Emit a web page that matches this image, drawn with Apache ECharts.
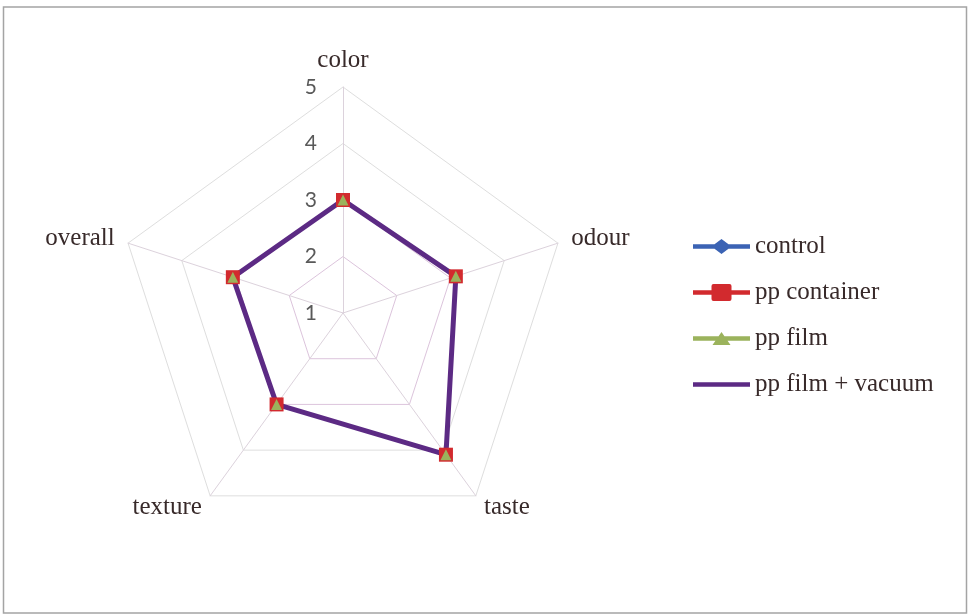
<!DOCTYPE html>
<html>
<head>
<meta charset="utf-8">
<script src="https://cdn.jsdelivr.net/npm/echarts@6/dist/echarts.min.js"></script>
<style>
  html, body { margin: 0; padding: 0; background: #ffffff; }
  #chart { width: 969px; height: 615px; }
</style>
</head>
<body>
<div id="chart"></div>
<script>
// Sensory attributes, listed in the order the radar lays them out (counter-clockwise from the top)
const attributes = ['color', 'overall', 'texture', 'taste', 'odour'];

// Mean sensory scores per packaging treatment
const control        = [3.0, 3.05, 3.0, 4.1, 3.1];
const ppContainer    = [3.0, 3.05, 3.0, 4.1, 3.1];
const ppFilm         = [3.0, 3.05, 3.0, 4.1, 3.1];
const ppFilmVacuum   = [3.0, 3.05, 3.0, 4.1, 3.1];

const seriesNames = ['control', 'pp container', 'pp film', 'pp film + vacuum'];

// Scale of the score axis
const scaleMin = 1;
const scaleMax = 5;

const colors = {
  control: '#3b63b4',
  container: '#d22a2e',
  film: '#9bb35c',
  vacuum: '#5c2a84'
};

// Legend glyphs: a thick line with the series marker in the middle (57 x 18 box)
const frame = 'M0,0 L0,0 Z M57,18 L57,18 Z ';
const lineBar = 'M0,6.8 L57,6.8 L57,11.2 L0,11.2 Z ';
const icons = {
  control: 'path://' + frame + lineBar + 'M28.5,1.5 L38.5,9 L28.5,16.5 L18.5,9 Z',
  container: 'path://' + frame + lineBar +
    'M20.5,0.5 L36.5,0.5 Q38.5,0.5 38.5,2.5 L38.5,15.5 Q38.5,17.5 36.5,17.5 L20.5,17.5 Q18.5,17.5 18.5,15.5 L18.5,2.5 Q18.5,0.5 20.5,0.5 Z',
  film: 'path://' + frame + lineBar + 'M28.5,2.5 L37.5,15.5 L19.5,15.5 Z',
  vacuum: 'path://' + frame + lineBar
};

const chart = echarts.init(document.getElementById('chart'));

const serifText = { fontFamily: 'Liberation Serif', fontSize: 25, color: '#382a2a' };

chart.setOption({
  backgroundColor: '#ffffff',
  animation: false,
  graphic: [{
    type: 'rect',
    shape: { x: 3.5, y: 7, width: 963, height: 606 },
    style: { fill: 'none', stroke: '#a4a4a4', lineWidth: 1.5 },
    silent: true
  }],
  legend: {
    orient: 'vertical',
    left: 693,
    top: 234,
    padding: 0,
    itemWidth: 57,
    itemHeight: 18,
    itemGap: 21,
    textStyle: Object.assign({ lineHeight: 25 }, serifText),
    data: [
      { name: seriesNames[0], icon: icons.control, itemStyle: { color: colors.control } },
      { name: seriesNames[1], icon: icons.container, itemStyle: { color: colors.container } },
      { name: seriesNames[2], icon: icons.film, itemStyle: { color: colors.film } },
      { name: seriesNames[3], icon: icons.vacuum, itemStyle: { color: colors.vacuum } }
    ]
  },
  radar: {
    center: [343, 313],
    radius: 226,
    startAngle: 90,
    splitNumber: 4,
    shape: 'polygon',
    nameGap: 14,
    axisName: serifText,
    indicator: attributes.map(function (name, i) {
      const ind = { name: name, min: scaleMin, max: scaleMax };
      if (i === 0) {
        ind.axisLabel = {
          show: true,
          fontFamily: 'Lato',
          fontSize: 21,
          color: '#595959',
          margin: 26
        };
      }
      return ind;
    }),
    axisLine: { lineStyle: { color: '#dcd2dc', width: 1 } },
    axisTick: { show: false },
    axisLabel: { show: false },
    splitLine: {
      lineStyle: {
        color: ['#dddddd', '#dcc4dc', '#dcc4dc', '#dedede', '#dedede'],
        width: 1
      }
    },
    splitArea: { show: false }
  },
  series: [{
    type: 'radar',
    data: [
      {
        name: seriesNames[0], value: control,
        symbol: 'diamond', symbolSize: 12,
        lineStyle: { color: colors.control, width: 3 },
        itemStyle: { color: colors.control }
      },
      {
        name: seriesNames[1], value: ppContainer,
        symbol: 'rect', symbolSize: 14,
        lineStyle: { color: colors.container, width: 3 },
        itemStyle: { color: colors.container }
      },
      {
        name: seriesNames[2], value: ppFilm,
        symbol: 'triangle', symbolSize: 11,
        lineStyle: { color: colors.film, width: 3 },
        itemStyle: { color: colors.film }
      },
      {
        name: seriesNames[3], value: ppFilmVacuum,
        symbol: 'none',
        lineStyle: { color: colors.vacuum, width: 5 },
        itemStyle: { color: colors.vacuum }
      }
    ]
  }]
});
</script>
</body>
</html>
